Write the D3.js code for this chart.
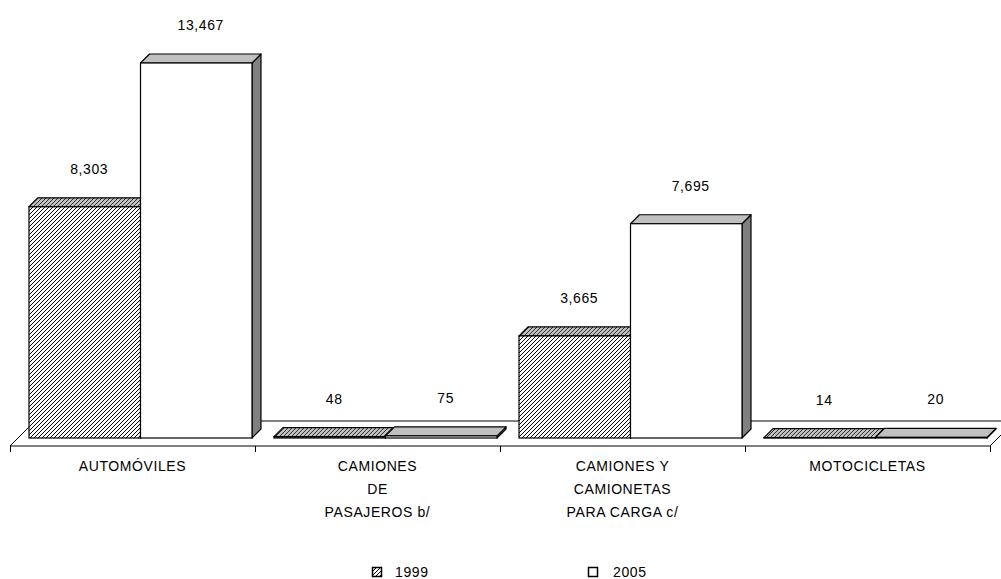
<!DOCTYPE html>
<html>
<head>
<meta charset="utf-8">
<script src="https://cdn.jsdelivr.net/npm/d3@7"></script>
<style>
  html, body { margin: 0; padding: 0; background: #fff; }
  svg { display: block; }
  text { font-family: "Liberation Sans", Arial, sans-serif; font-size: 14px; letter-spacing: 0.6px; fill: #000; }
</style>
</head>
<body>
<svg id="chart" width="1001" height="579"></svg>
<script>
// Vehicle categories (each entry split into the lines shown under the floor)
const categories = ["AUTOMÓVILES", "CAMIONES DE PASAJEROS b/", "CAMIONES Y CAMIONETAS PARA CARGA c/", "MOTOCICLETAS"];
const categoryLines = [["AUTOMÓVILES"], ["CAMIONES", "DE", "PASAJEROS b/"], ["CAMIONES Y", "CAMIONETAS", "PARA CARGA c/"], ["MOTOCICLETAS"]];
const seriesNames = ["1999", "2005"];
const values1999 = [8303, 48, 3665, 14];
const values2005 = [13467, 75, 7695, 20];
const valueLabels1999 = ["8,303", "48", "3,665", "14"];
const valueLabels2005 = ["13,467", "75", "7,695", "20"];

const svg = d3.select("#chart");

// 3D layout: floor depth, offset of bars from the floor front, bar depth
const floorDepth = 25, barInset = 8, barDepth = 9;
const floorFrontY = 446;
const baseY = floorFrontY - barInset;

const x = d3.scaleBand().domain(categories).range([10, 990]).paddingInner(0).paddingOuter(0);
const xs = d3.scaleBand().domain(seriesNames).range([0, x.bandwidth()]).paddingInner(0).paddingOuter(0.0987);
const y = d3.scaleLinear().domain([0, 14000]).range([baseY, baseY - 14000 * 375 / 13467]);

// Hatch patterns
const defs = svg.append("defs");
function hatch(id, bg, fg) {
  const p = defs.append("pattern").attr("id", id).attr("patternUnits", "userSpaceOnUse")
    .attr("width", 4).attr("height", 4);
  p.append("rect").attr("width", 4).attr("height", 4).attr("fill", bg);
  p.append("path").attr("d", "M-1,1 L1,-1 M0,4 L4,0 M3,5 L5,3")
    .attr("stroke", fg).attr("stroke-width", 1).attr("shape-rendering", "crispEdges");
}
hatch("hatchFront", "#ffffff", "#000000");
hatch("hatchTop", "#c0c0c0", "#303030");

// Floor
const fx0 = x.range()[0], fx1 = x.range()[1];
svg.append("polygon")
  .attr("points", [[fx0, floorFrontY], [fx1, floorFrontY], [fx1 + floorDepth, floorFrontY - floorDepth], [fx0 + floorDepth, floorFrontY - floorDepth]].map(p => p.join(",")).join(" "))
  .attr("fill", "#fff").attr("stroke", "#000").attr("stroke-width", 1);

// Category ticks on the floor front edge
const tickXs = categories.map(c => x(c)).concat([fx1]);
svg.selectAll("line.tick").data(tickXs).join("line")
  .attr("class", "tick")
  .attr("x1", d => d).attr("x2", d => d)
  .attr("y1", floorFrontY).attr("y2", floorFrontY + 6)
  .attr("stroke", "#000").attr("shape-rendering", "crispEdges");

// Bars
const series = [
  { name: "1999", values: values1999, labels: valueLabels1999, front: "url(#hatchFront)", top: "url(#hatchTop)", side: "#808080" },
  { name: "2005", values: values2005, labels: valueLabels2005, front: "#ffffff", top: "#c0c0c0", side: "#808080" }
];

const bars = svg.append("g");
categories.forEach((c, i) => {
  series.forEach(s => {
    const v = s.values[i];
    const x0 = x(c) + barInset + xs(s.name);
    const x1 = x0 + xs.bandwidth();
    const yt = y(v), yb = y(0), d = barDepth;
    const g = bars.append("g");
    g.append("polygon")
      .attr("points", [[x1, yt], [x1 + d, yt - d], [x1 + d, yb - d], [x1, yb]].map(p => p.join(",")).join(" "))
      .attr("fill", s.side).attr("stroke", "#000").attr("stroke-width", 1.2).attr("stroke-linejoin", "round");
    g.append("polygon")
      .attr("points", [[x0, yt], [x0 + d, yt - d], [x1 + d, yt - d], [x1, yt]].map(p => p.join(",")).join(" "))
      .attr("fill", s.top).attr("stroke", "#000").attr("stroke-width", 1.2).attr("stroke-linejoin", "round");
    g.append("rect")
      .attr("x", x0).attr("y", yt).attr("width", x1 - x0).attr("height", yb - yt)
      .attr("fill", s.front).attr("stroke", "#000").attr("stroke-width", 1.2);
  });
});

// Value labels above each bar
categories.forEach((c, i) => {
  series.forEach(s => {
    const x0 = x(c) + barInset + xs(s.name);
    svg.append("text")
      .attr("x", x0 + xs.bandwidth() / 2 + barDepth / 2)
      .attr("y", y(s.values[i]) - barDepth - 24)
      .attr("text-anchor", "middle")
      .text(s.labels[i]);
  });
});

// Category labels
categories.forEach((c, i) => {
  const t = svg.append("text")
    .attr("x", x(c) + x.bandwidth() / 2)
    .attr("y", 471)
    .attr("text-anchor", "middle");
  categoryLines[i].forEach((line, k) => {
    t.append("tspan").attr("x", x(c) + x.bandwidth() / 2).attr("dy", k === 0 ? 0 : 23).text(line);
  });
});

// Legend
const legendItems = [
  { name: "1999", fill: "url(#hatchFront)", bx: 372, tx: 395 },
  { name: "2005", fill: "#ffffff", bx: 588, tx: 613 }
];
const legend = svg.append("g");
legendItems.forEach(it => {
  legend.append("rect").attr("x", it.bx + 0.5).attr("y", 567.5).attr("width", 9).attr("height", 9)
    .attr("fill", it.fill).attr("stroke", "#000").attr("stroke-width", 1.5);
  legend.append("text").attr("x", it.tx).attr("y", 577).text(it.name);
});
</script>
</body>
</html>
